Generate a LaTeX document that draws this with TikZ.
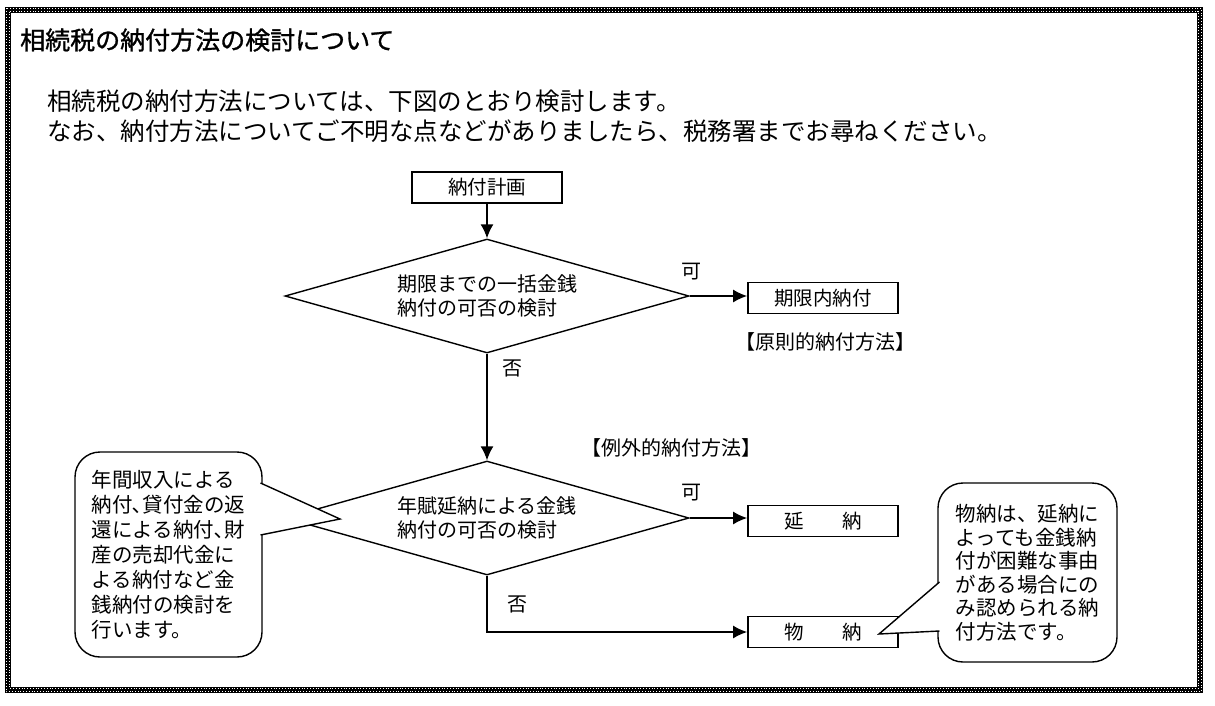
\documentclass[tikz,border=0pt]{standalone}
\usepackage{fontspec}
\setmainfont{Noto Sans CJK JP}
\newfontfamily\titlefont[FakeBold=1.2]{Noto Sans CJK JP}
\usetikzlibrary{shapes.geometric,arrows.meta,positioning}
\newcommand\jsize[2]{\fontsize{#1}{#2}\selectfont}

\begin{document}
\begin{tikzpicture}[x=1pt,y=-1pt,
  box/.style={draw,line width=1.8pt,minimum width=150pt,minimum height=31pt,inner sep=0pt,font=\jsize{19.5pt}{24pt}},
  chk/.style={draw,diamond,line width=1.4pt,aspect=4,minimum width=404pt,minimum height=114pt,inner sep=0pt,align=left,font=\jsize{20pt}{24pt}},
  note/.style={draw,fill=white,line width=1.4pt,rounded corners=25pt,inner sep=0pt,align=left},
  lbl/.style={font=\jsize{20pt}{24pt},inner sep=0pt},
  intro/.style={font=\jsize{24.5pt}{30pt},inner sep=0pt,anchor=west},
  arr/.style={line width=1.4pt,-{Latex[length=14pt,width=13pt]}}]
\useasboundingbox (0,0) rectangle (1215,705);
% frame
\draw[line width=6.5pt] (8,10) rectangle (1200,690);
\draw[white,line width=1pt,dash pattern=on 1pt off 1.8pt] (6.4,8.4) rectangle (1201.6,691.6);
\draw[white,line width=1pt,dash pattern=on 1pt off 1.8pt] (9.6,11.6) rectangle (1198.4,688.4);

\node[anchor=west,inner sep=0pt,font=\titlefont\jsize{25pt}{28pt}] (title) at (20,40) {相続税の納付方法の検討について};
\node[intro] (intro1) at (47,101) {相続税の納付方法については、下図のとおり検討します。};
\node[intro] (intro2) at (47,131) {なお、納付方法についてご不明な点などがありましたら、税務署までお尋ねください。};

% flow
\node[box] (plan) at (487,187.5) {納付計画};
\node[chk] (chk1) at (487,296) {期限までの一括金銭\\納付の可否の検討};
\node[box] (ontime) at (823,298) {期限内納付};
\node[lbl] (yes1) at (691,272) {可};
\node[lbl] (no1) at (512,368) {否};
\node[lbl] (rule) at (825,342) {【原則的納付方法】};
\node[lbl] (excp) at (671,448) {【例外的納付方法】};
\node[chk] (chk2) at (487,518) {年賦延納による金銭\\納付の可否の検討};
\node[box] (defer) at (823,521) {延\hspace{2em}納};
\node[lbl] (yes2) at (691,493) {可};
\node[lbl] (no2) at (517,604) {否};
\node[box] (kind) at (823,632) {物\hspace{2em}納};

\draw[arr] (plan) -- (chk1);
\draw[arr] (chk1.east) -- (chk1.east -| ontime.west);
\draw[arr] (chk1) -- (chk2);
\draw[arr] (chk2.east) -- (chk2.east -| defer.west);
\draw[arr] (chk2.south) |- (kind.west);

% callouts
\node[note,minimum width=187pt,minimum height=205pt,font=\jsize{20.5pt}{25pt}] (lnote) at (168.5,554.5)
  {年間収入による\\納付､貸付金の返\\還による納付､財\\産の売却代金に\\よる納付など金\\銭納付の検討を\\行います。};
\draw[fill=white,line width=1.4pt] (260.5,483) -- (340,519) -- (260.5,535);
\node[note,minimum width=179pt,minimum height=179pt,font=\jsize{20.5pt}{23.5pt}] (rnote) at (1027.5,572.5)
  {物納は、延納に\\よっても金銭納\\付が困難な事由\\がある場合にの\\み認められる納\\付方法です。};
\draw[fill=white,line width=1.4pt] (939.5,582) -- (879,634) -- (939.5,631);
\end{tikzpicture}
\end{document}
